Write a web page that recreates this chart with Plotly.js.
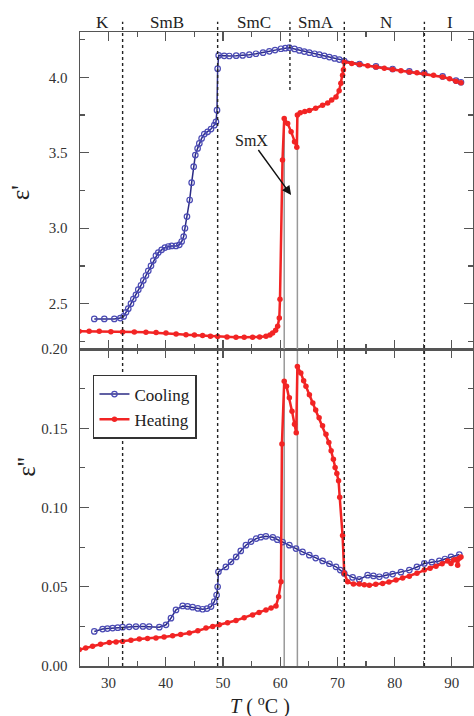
<!DOCTYPE html>
<html>
<head>
<meta charset="utf-8">
<script src="https://cdn.plot.ly/plotly-3.0.1.min.js"></script>
<style>html,body{margin:0;padding:0;background:#fff;}#chart{width:474px;height:716px;}</style>
</head>
<body>
<div id="chart"></div>
<script>
// ---- data (T in °C) ----
const coolT_real = [27.5, 29.25, 31.0, 32.05, 32.63, 33.04, 33.44, 33.91, 34.32, 34.78, 35.19, 35.66, 36.07, 36.53, 36.94, 37.41, 37.81, 38.28, 38.69, 39.27, 39.85, 40.44, 41.02, 41.78, 42.36, 42.77, 43.12, 43.35, 43.70, 44.17, 44.52, 44.87, 45.16, 45.56, 45.86, 46.26, 46.73, 47.31, 47.90, 48.48, 48.77, 48.95, 49.06, 49.24, 50.2, 51.1, 52.3, 53.43, 54.6, 55.76, 57.0, 58.1, 59.1, 60.13, 60.9, 61.59, 62.5, 63.34, 64.2, 65.09, 66.0, 66.84, 67.7, 68.58, 69.5, 70.33, 71.2, 73.86, 76.74, 79.65, 82.57, 85.19, 88.39, 90.73, 91.6];
const coolEps_real = [2.399, 2.399, 2.399, 2.405, 2.416, 2.443, 2.467, 2.500, 2.531, 2.559, 2.593, 2.621, 2.654, 2.687, 2.718, 2.751, 2.786, 2.819, 2.839, 2.857, 2.872, 2.879, 2.883, 2.883, 2.890, 2.912, 2.945, 3.000, 3.077, 3.187, 3.302, 3.408, 3.485, 3.529, 3.562, 3.595, 3.624, 3.639, 3.657, 3.683, 3.705, 3.782, 4.057, 4.145, 4.142, 4.141, 4.143, 4.145, 4.150, 4.156, 4.163, 4.172, 4.180, 4.189, 4.193, 4.196, 4.188, 4.178, 4.170, 4.163, 4.156, 4.150, 4.142, 4.134, 4.125, 4.117, 4.108, 4.088, 4.072, 4.055, 4.039, 4.027, 4.006, 3.978, 3.967];

const heatT_real = [24.88, 26.6, 28.37, 30.4, 32.45, 34.5, 36.53, 38.3, 40.03, 41.8, 43.53, 45.0, 46.43, 47.8, 49.06, 50.7, 52.27, 53.7, 55.17, 56.4, 57.51, 58.2, 58.67, 59.2, 59.55, 59.84, 59.96, 60.4, 60.7, 61.3, 61.9, 62.5, 62.9, 63.0, 63.5, 64.3, 65.1, 66.2, 67.4, 68.3, 69.0, 69.75, 70.3, 70.6, 70.9, 71.05, 71.2, 72.5, 73.86, 75.3, 76.74, 78.2, 79.65, 81.1, 82.57, 83.9, 85.19, 86.8, 88.39, 89.6, 90.73, 91.6];
const heatEps_real = [2.317, 2.317, 2.317, 2.315, 2.313, 2.312, 2.311, 2.309, 2.306, 2.300, 2.295, 2.292, 2.289, 2.285, 2.282, 2.280, 2.278, 2.278, 2.278, 2.280, 2.284, 2.292, 2.306, 2.325, 2.350, 2.405, 2.53, 3.452, 3.727, 3.694, 3.64, 3.573, 3.536, 3.75, 3.765, 3.773, 3.78, 3.795, 3.815, 3.83, 3.85, 3.87, 3.91, 3.96, 4.013, 4.05, 4.101, 4.092, 4.084, 4.076, 4.068, 4.060, 4.051, 4.043, 4.035, 4.030, 4.024, 4.013, 4.002, 3.99, 3.974, 3.963];

const coolT_imag = [27.5, 28.95, 29.8, 30.7, 31.6, 32.45, 33.6, 34.78, 36.0, 37.1, 38.86, 40.03, 40.9, 41.78, 42.95, 43.8, 44.69, 45.6, 46.44, 47.2, 47.9, 48.48, 48.88, 49.06, 49.2, 50.5, 51.4, 52.3, 53.1, 54.0, 54.9, 55.8, 56.6, 57.5, 58.7, 59.5, 60.42, 61.6, 62.76, 63.9, 65.09, 66.2, 67.41, 68.6, 69.75, 70.5, 71.2, 72.66, 73.83, 75.28, 76.3, 77.33, 78.5, 79.65, 81.1, 82.57, 83.9, 85.19, 86.5, 87.81, 88.8, 89.85, 91.31];
const coolEps_imag = [0.0218, 0.0233, 0.0236, 0.0239, 0.0242, 0.0245, 0.0247, 0.0249, 0.0250, 0.0249, 0.0245, 0.0260, 0.0302, 0.0354, 0.0379, 0.0376, 0.0371, 0.0363, 0.0358, 0.0362, 0.0375, 0.0406, 0.0448, 0.0500, 0.0594, 0.0625, 0.0657, 0.0688, 0.0726, 0.0762, 0.0785, 0.0804, 0.0813, 0.0818, 0.0812, 0.0797, 0.0782, 0.0762, 0.0741, 0.0720, 0.0699, 0.0681, 0.0663, 0.0645, 0.0626, 0.0605, 0.0584, 0.0559, 0.0546, 0.0573, 0.0568, 0.0563, 0.0572, 0.0580, 0.0592, 0.0605, 0.0625, 0.0647, 0.0655, 0.0663, 0.0675, 0.0688, 0.0703];

const heatT_imag = [24.88, 26.0, 27.2, 28.6, 30.12, 31.3, 32.45, 33.9, 35.37, 36.8, 38.28, 39.7, 41.19, 42.6, 44.11, 45.6, 47.02, 48.2, 49.35, 50.8, 52.27, 53.7, 55.17, 56.3, 57.51, 58.4, 59.26, 59.72, 60.13, 60.3, 60.7, 61.1, 61.6, 62.06, 62.5, 62.8, 63.0, 63.6, 64.1, 64.5, 65.1, 65.7, 66.2, 66.8, 67.4, 68.0, 68.5, 68.9, 69.3, 69.6, 69.9, 70.2, 70.4, 70.9, 71.2, 71.8, 72.8, 73.83, 74.7, 75.58, 76.7, 77.9, 79.0, 80.24, 81.4, 82.57, 83.9, 85.19, 86.2, 87.23, 88.3, 89.27, 89.85, 90.3, 90.73, 91.02, 91.3, 91.6];
const heatEps_imag = [0.0103, 0.0114, 0.0124, 0.0137, 0.0149, 0.0152, 0.0155, 0.0163, 0.0170, 0.0173, 0.0176, 0.0183, 0.0191, 0.0199, 0.0208, 0.0222, 0.0239, 0.0250, 0.0260, 0.0273, 0.0287, 0.0305, 0.0322, 0.0338, 0.0354, 0.0366, 0.0379, 0.0437, 0.0531, 0.140, 0.1797, 0.1765, 0.1692, 0.1608, 0.1525, 0.1472, 0.189, 0.1849, 0.1800, 0.1765, 0.1712, 0.166, 0.1615, 0.1566, 0.1515, 0.1462, 0.1410, 0.1358, 0.1305, 0.1253, 0.1215, 0.1169, 0.1065, 0.0824, 0.0584, 0.0531, 0.0517, 0.0517, 0.0512, 0.0510, 0.0515, 0.0521, 0.0530, 0.0542, 0.0555, 0.0567, 0.0585, 0.0605, 0.0617, 0.0630, 0.0645, 0.0663, 0.0647, 0.0668, 0.0672, 0.0636, 0.0680, 0.0688];

const phaseNames = ['K', 'SmB', 'SmC', 'SmA', 'N', 'I'];
const phaseLabelT = [28.9, 40.2, 55.5, 66.3, 78.5, 89.6];
const transitionT = [32.45, 49.06, 71.2, 85.2];   // dotted lines, both panels
const smcSmaT = 61.7;                              // short dotted line, top
const smxT = [60.7, 63.0];                         // grey solid lines
const smxTopEps = [3.727, 3.75];
const seriesNames = ['Cooling', 'Heating'];

// ---- styles ----
const FONT = '"Liberation Serif", "Times New Roman", serif';
const BLUE_LINE = '#2b2b85';
const BLUE_MK = '#4a4ab4';
const RED = '#f22424';
const AXC = '#555555';

function coolTrace(x, y, xa, ya, show) {
  return {x, y, xaxis: xa, yaxis: ya, type: 'scatter', mode: 'lines+markers',
    name: seriesNames[0], legendgroup: 'c', showlegend: show,
    line: {color: BLUE_LINE, width: 1.5},
    marker: {symbol: 'circle-open', size: 5.5, color: BLUE_MK, line: {width: 1.2, color: BLUE_MK}}};
}
function heatTrace(x, y, xa, ya, show) {
  return {x, y, xaxis: xa, yaxis: ya, type: 'scatter', mode: 'lines+markers',
    name: seriesNames[1], legendgroup: 'h', showlegend: show,
    line: {color: RED, width: 2.5},
    marker: {symbol: 'circle', size: 5.5, color: RED}};
}

const data = [
  coolTrace(coolT_real, coolEps_real, 'x2', 'y2', false),
  heatTrace(heatT_real, heatEps_real, 'x2', 'y2', false),
  coolTrace(coolT_imag, coolEps_imag, 'x', 'y', true),
  heatTrace(heatT_imag, heatEps_imag, 'x', 'y', true)
];

const axisCommon = {
  showline: true, linecolor: AXC, linewidth: 1.5, mirror: 'ticks',
  ticks: 'inside', ticklen: 9, tickwidth: 1.3, tickcolor: AXC,
  showgrid: false, zeroline: false,
  tickfont: {family: FONT, size: 15, color: '#333'}
};

const shapes = [];
transitionT.forEach(t => shapes.push({type: 'line', xref: 'x', yref: 'paper', x0: t, x1: t, y0: 0, y1: 1.016,
  line: {color: '#222', width: 1.4, dash: '3px,3px'}}));
shapes.push({type: 'line', xref: 'x', yref: 'paper', x0: smcSmaT, x1: smcSmaT, y0: 0.9085, y1: 1.016,
  line: {color: '#222', width: 1.4, dash: '3px,3px'}});
smxT.forEach((t, i) => {
  shapes.push({type: 'line', xref: 'x', yref: 'paper', x0: t, x1: t, y0: 0, y1: 0.5, layer: 'below',
    line: {color: '#999', width: 1.5}});
  shapes.push({type: 'line', xref: 'x2', yref: 'y2', x0: t, x1: t, y0: 2.2, y1: smxTopEps[i], layer: 'below',
    line: {color: '#999', width: 1.5}});
});

const annotations = phaseNames.map((n, i) => ({
  text: n, x: phaseLabelT[i], xref: 'x', y: 1.0155, yref: 'paper', yanchor: 'middle',
  showarrow: false, font: {family: FONT, size: 17, color: '#222'}
}));
annotations.push({text: 'SmX', x: 61.9, y: 3.22, xref: 'x2', yref: 'y2', showarrow: true,
  ax: -40, ay: -55, arrowhead: 2, arrowsize: 1.3, arrowwidth: 1.4, arrowcolor: '#111',
  font: {family: FONT, size: 16, color: '#222'}});
annotations.push({text: "ε'", xref: 'paper', yref: 'paper', x: -0.152, y: 0.746, xanchor: 'center', yanchor: 'middle',
  textangle: -90, showarrow: false, font: {family: FONT, size: 25, color: '#222'}});
annotations.push({text: "ε''", xref: 'paper', yref: 'paper', x: -0.135, y: 0.314, xanchor: 'center', yanchor: 'middle',
  textangle: -90, showarrow: false, font: {family: FONT, size: 25, color: '#222'}});
annotations.push({text: '<i>T</i> ( <sup>o</sup>C )', xref: 'paper', yref: 'paper', x: 0.458, y: -0.062,
  yanchor: 'middle', showarrow: false, font: {family: FONT, size: 20, color: '#222'}});

const layout = {
  width: 474, height: 716,
  margin: {l: 80, r: 1, t: 32, b: 50},
  paper_bgcolor: '#fff', plot_bgcolor: '#fff',
  font: {family: FONT, size: 15, color: '#333'},
  showlegend: true,
  legend: {x: 0.033, y: 0.459, xanchor: 'left', yanchor: 'top', bgcolor: '#fff',
    bordercolor: '#333', borderwidth: 1.5, font: {family: FONT, size: 17, color: '#222'},
    tracegroupgap: 0},
  xaxis: Object.assign({}, axisCommon, {domain: [0, 1], anchor: 'y', range: [25, 93.7],
    tickvals: [30, 40, 50, 60, 70, 80, 90], ticklabelstandoff: 2,
    minor: {tickvals: [25, 35, 45, 55, 65, 75, 85], ticks: 'inside', ticklen: 5, tickcolor: AXC, tickwidth: 1.2}}),
  yaxis: Object.assign({}, axisCommon, {domain: [0, 0.5], anchor: 'x', range: [0, 0.2],
    tickvals: [0, 0.05, 0.1, 0.15, 0.2], tickformat: '.2f', ticklabelstandoff: 8,
    minor: {tickvals: [0.025, 0.075, 0.125, 0.175], ticks: 'inside', ticklen: 5, tickcolor: AXC, tickwidth: 1.2}}),
  xaxis2: Object.assign({}, axisCommon, {domain: [0, 1], anchor: 'y2', matches: 'x', range: [25, 93.7],
    tickvals: [30, 40, 50, 60, 70, 80, 90], showticklabels: false,
    minor: {tickvals: [25, 35, 45, 55, 65, 75, 85], ticks: 'inside', ticklen: 5, tickcolor: AXC, tickwidth: 1.2}}),
  yaxis2: Object.assign({}, axisCommon, {domain: [0.5, 1], anchor: 'x2', range: [2.2, 4.3],
    tickvals: [2.5, 3.0, 3.5, 4.0], tickformat: '.1f', ticklabelstandoff: 8,
    minor: {tickvals: [2.25, 2.75, 3.25, 3.75, 4.25], ticks: 'inside', ticklen: 5, tickcolor: AXC, tickwidth: 1.2}}),
  shapes, annotations
};

Plotly.newPlot('chart', data, layout, {staticPlot: true, displayModeBar: false});
</script>
</body>
</html>
